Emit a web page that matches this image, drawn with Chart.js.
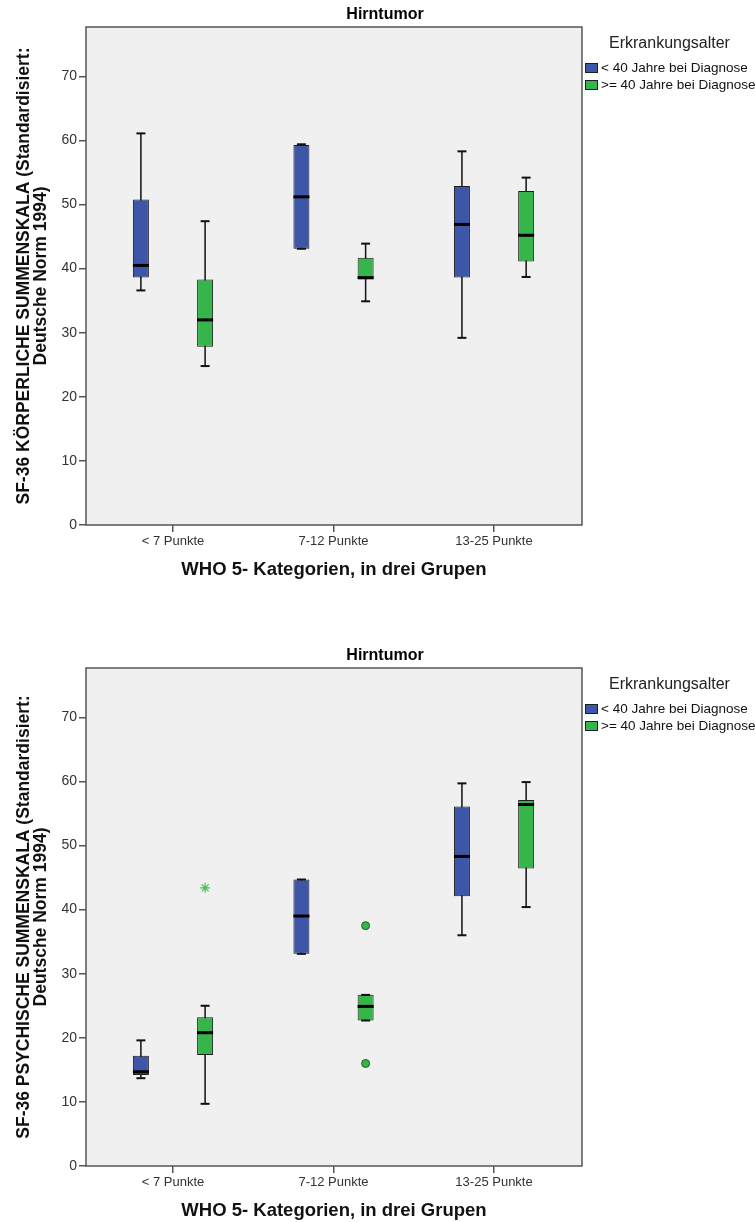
<!DOCTYPE html>
<html lang="de">
<head>
<meta charset="UTF-8">
<title>Hirntumor - SF-36 Summenskalen</title>
<script src="https://cdn.jsdelivr.net/npm/chart.js@4"></script>
<style>
  body { margin: 0; background: #fff; font-family: "Liberation Sans", Arial, sans-serif; }
  .panel { position: absolute; left: 0; width: 755px; height: 581px; }
  .leg-title { position: absolute; left: 609px; top: 34px; font-size: 16px; line-height: 18px; color: #222; white-space: nowrap; }
  .leg-item { position: absolute; left: 585px; height: 14px; font-size: 13.5px; line-height: 14px; color: #111; white-space: nowrap; }
  .leg-item span { display: inline-block; width: 13px; height: 10px; margin-right: 3px; vertical-align: -1px; border: 1px solid #1e1e1e; box-sizing: border-box; }
</style>
</head>
<body>

<div class="panel" style="top:0px"><canvas id="koerper"></canvas></div>
<div class="panel" style="top:641px"><canvas id="psyche"></canvas></div>

<script>
const categories = ['< 7 Punkte', '7-12 Punkte', '13-25 Punkte'];
const groups = ['< 40 Jahre bei Diagnose', '>= 40 Jahre bei Diagnose'];
const groupColors = ['#3d56a8', '#35b54a'];

// je Kategorie: [min, Q1, Median, Q3, max]
const koerperYoung = [[36.6, 38.6, 40.5, 50.8, 61.1], [43.1, 43.1, 51.2, 59.3, 59.4], [29.2, 38.6, 46.9, 52.9, 58.3]];
const koerperOld = [[24.8, 27.8, 32.0, 38.3, 47.4], [34.9, 38.3, 38.6, 41.7, 43.9], [38.7, 41.1, 45.2, 52.1, 54.2]];
const psycheYoung = [[13.7, 14.2, 14.7, 17.2, 19.6], [33.1, 33.1, 39.0, 44.7, 44.7], [36.0, 42.1, 48.3, 56.1, 59.7]];
const psycheOld = [[9.7, 17.3, 20.8, 23.2, 25.0], [22.7, 22.7, 24.9, 26.7, 26.7], [40.4, 46.4, 56.4, 57.1, 59.9]];

// Ausreisser [Kategorie, Wert]
const psycheOldOutliers = [[1, 37.5], [1, 16.0]];
const psycheOldExtremes = [[0, 43.4]];

const yTicks = [0, 10, 20, 30, 40, 50, 60, 70];
const FONT = '"Liberation Sans", Arial, sans-serif';
const groupOffset = [-0.2, 0.2];

const plotFrame = {
    id: 'plotFrame',
    beforeDraw(chart) {
        const a = chart.chartArea, ctx = chart.ctx;
        ctx.save();
        ctx.fillStyle = '#f0f0f0';
        ctx.fillRect(a.left, a.top, a.right - a.left, a.bottom - a.top);
        ctx.restore();
    },
    afterDraw(chart) {
        const a = chart.chartArea, ctx = chart.ctx;
        ctx.save();
        ctx.strokeStyle = '#555';
        ctx.lineWidth = 1.5;
        ctx.strokeRect(a.left, a.top, a.right - a.left, a.bottom - a.top);
        ctx.restore();
    }
};

function makeDatasets(young, old, outliers, extremes) {
    const sets = [];
    [young, old].forEach((g, gi) => {
        const pos = g.map((b, ci) => ci + groupOffset[gi]);
        const whisker = [];
        g.forEach((b, ci) => {
            whisker.push({ x: pos[ci], y: b[0] }, { x: pos[ci], y: b[4] }, { x: pos[ci], y: null });
        });
        sets.push({
            type: 'line', data: whisker, borderColor: '#111', borderWidth: 1.5,
            pointRadius: 0, spanGaps: false, order: 5
        });
        sets.push({
            type: 'bar', label: groups[gi],
            data: g.map((b, ci) => ({ x: pos[ci], y: [b[1], b[3]] })),
            backgroundColor: groupColors[gi], borderColor: '#1e1e1e', borderWidth: 1,
            borderSkipped: false, grouped: false, categoryPercentage: 1, barPercentage: 0.25,
            maxBarThickness: 16, order: 4
        });
        sets.push({
            type: 'scatter', data: g.map((b, ci) => ({ x: pos[ci], y: b[2] })),
            pointStyle: 'line', pointRadius: 8, borderWidth: 3, borderColor: '#000', order: 3
        });
        sets.push({
            type: 'scatter',
            data: g.flatMap((b, ci) => [{ x: pos[ci], y: b[0] }, { x: pos[ci], y: b[4] }]),
            pointStyle: 'line', pointRadius: 4.5, borderWidth: 2, borderColor: '#111', order: 2
        });
    });
    if (outliers.length) {
        sets.push({
            type: 'scatter', data: outliers.map(o => ({ x: o[0] + groupOffset[1], y: o[1] })),
            pointStyle: 'circle', pointRadius: 4, backgroundColor: groupColors[1],
            borderColor: '#1f5e2b', borderWidth: 1, order: 1
        });
    }
    if (extremes.length) {
        sets.push({
            type: 'scatter', data: extremes.map(o => ({ x: o[0] + groupOffset[1], y: o[1] })),
            pointStyle: 'star', pointRadius: 5, borderColor: '#4cba5c', borderWidth: 1.2, order: 1
        });
    }
    return sets;
}

function makeChart(id, yTitle, young, old, outliers, extremes) {
    return new Chart(document.getElementById(id), {
        type: 'bar',
        data: { datasets: makeDatasets(young, old, outliers, extremes) },
        options: {
            responsive: true,
            maintainAspectRatio: false,
            animation: false,
            events: [],
            layout: { padding: { left: 15, right: 0, top: 0, bottom: 0 } },
            plugins: {
                legend: { display: false },
                tooltip: { enabled: false },
                title: {
                    display: true, text: 'Hirntumor', color: '#000',
                    font: { family: FONT, size: 16, weight: 'bold' },
                    padding: { top: 5.4, bottom: 2.4 }
                }
            },
            scales: {
                x: {
                    type: 'linear', min: -0.542, max: 2.548, offset: false,
                    afterBuildTicks: s => { s.ticks = categories.map((c, i) => ({ value: i })); },
                    afterFit: s => { s.height = 56; },
                    ticks: {
                        callback: v => categories[v], autoSkip: false, maxRotation: 0,
                        font: { family: FONT, size: 13 }, color: '#333', padding: 2
                    },
                    grid: { offset: false, drawOnChartArea: false, tickLength: 7, color: '#555', lineWidth: 1.5 },
                    border: { display: false },
                    title: {
                        display: true, text: 'WHO 5- Kategorien, in drei Grupen', color: '#111',
                        font: { family: FONT, size: 18.5, weight: 'bold' }, padding: 0
                    }
                },
                y: {
                    min: 0, max: 77.7,
                    afterBuildTicks: s => { s.ticks = yTicks.map(v => ({ value: v })); },
                    afterFit: s => { s.width = 71; },
                    ticks: { font: { family: FONT, size: 14 }, color: '#333', padding: 2 },
                    grid: { drawOnChartArea: false, tickLength: 7, color: '#555', lineWidth: 1.5 },
                    border: { display: false },
                    title: {
                        display: true, text: yTitle, color: '#111',
                        font: { family: FONT, size: 17.5, weight: 'bold', lineHeight: 1 },
                        padding: { top: 0, bottom: 0 }
                    }
                },
                yr: {
                    position: 'right', display: true,
                    afterFit: s => { s.width = 173; },
                    grid: { display: false }, ticks: { display: false }, border: { display: false }
                }
            }
        },
        plugins: [plotFrame]
    });
}

function addLegend(canvasId) {
    const panel = document.getElementById(canvasId).parentNode;
    let html = '<div class="leg-title">Erkrankungsalter</div>';
    groups.forEach((g, i) => {
        html += '<div class="leg-item" style="top:' + (61 + i * 16.6) + 'px"><span style="background:' +
            groupColors[i] + '"></span>' + g.replace(/</g, '&lt;').replace(/>/g, '&gt;') + '</div>';
    });
    panel.insertAdjacentHTML('beforeend', html);
}

makeChart('koerper', ['SF-36 KÖRPERLICHE SUMMENSKALA (Standardisiert:', 'Deutsche Norm 1994)'],
    koerperYoung, koerperOld, [], []);
makeChart('psyche', ['SF-36 PSYCHISCHE SUMMENSKALA (Standardisiert:', 'Deutsche Norm 1994)'],
    psycheYoung, psycheOld, psycheOldOutliers, psycheOldExtremes);
addLegend('koerper');
addLegend('psyche');
</script>
</body>
</html>
